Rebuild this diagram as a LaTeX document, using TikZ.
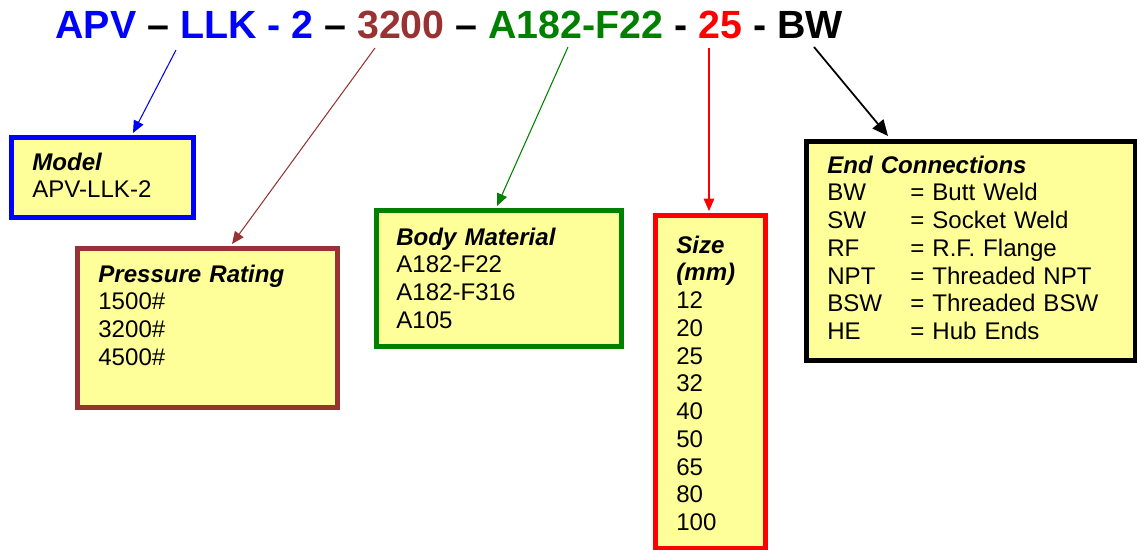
\documentclass[tikz,border=0pt]{standalone}
\usepackage{fontspec}
\setmainfont{Liberation Sans}
\usetikzlibrary{calc, positioning, arrows.meta}
\definecolor{mblue}{HTML}{0000FF}
\definecolor{brick}{HTML}{993333}
\definecolor{leaf}{HTML}{008000}
\definecolor{scarlet}{HTML}{FF0000}
\definecolor{paleyellow}{HTML}{FFFF99}
\tikzset{
  codebox/.style={draw=#1, fill=paleyellow, line width=2.6pt, rectangle, inner sep=0pt, anchor=north west},
  codetext/.style={anchor=base west, inner sep=0pt, font=\fontsize{13.7}{15.8}\selectfont, align=left, text width=#1},
  pointer/.style={draw=#1, line width=0.6pt, -{Triangle[length=7pt,width=6pt]}},
}
\newcommand{\head}[1]{\textbf{\textit{#1}}}

\begin{document}
\begin{tikzpicture}[x=0.02cm, y=-0.02cm]
  \useasboundingbox (0,0) rectangle (1137,549);

  % order code
  \node[anchor=base west, inner sep=0pt, font=\fontsize{22.4}{26}\selectfont\bfseries] (code) at (55,38)
    {\textcolor{mblue}{APV} – \textcolor{mblue}{LLK - 2} – \textcolor{brick}{3200} – \textcolor{leaf}{A182-F22} - \textcolor{scarlet}{25} - BW};
  \coordinate (modelsrc) at (176,50);
  \coordinate (ratingsrc) at (375,48);
  \coordinate (materialsrc) at (568,47);
  \coordinate (sizesrc) at (709,48);
  \coordinate (endsrc) at (814,47);

  % boxes
  \node[codebox=mblue, minimum width=3.64cm, minimum height=1.6cm] (model) at (9,135) {};
  \node[codebox=brick, minimum width=5.2cm, minimum height=3.18cm] (rating) at (75,246) {};
  \node[codebox=leaf, minimum width=4.9cm, minimum height=2.72cm] (material) at (374,208) {};
  \node[codebox=scarlet, minimum width=2.2cm, minimum height=6.66cm] (size) at (653,213) {};
  \node[codebox=black, line width=3pt, minimum width=6.58cm, minimum height=4.38cm] (ends) at (804,139) {};

  \node[codetext=3cm] (modeltxt) at ($(model.north west)+(23,35)$) {\head{Model}\\APV-LLK-2};
  \node[codetext=4.5cm] (ratingtxt) at ($(rating.north west)+(23,36)$) {\head{Pressure Rating}\\1500\#\\3200\#\\4500\#};
  \node[codetext=4.3cm] (materialtxt) at ($(material.north west)+(22,37)$) {\head{Body Material}\\A182-F22\\A182-F316\\A105};
  \node[codetext=1.6cm] (sizetxt) at ($(size.north west)+(23,40)$) {\head{Size}\\\head{(mm)}\\12\\20\\25\\32\\40\\50\\65\\80\\100};
  \node[codetext=6cm] (endstxt) at ($(ends.north west)+(23,34)$) {\head{End Connections}\\
    \makebox[1.66cm][l]{BW}= Butt Weld\\
    \makebox[1.66cm][l]{SW}= Socket Weld\\
    \makebox[1.66cm][l]{RF}= R.F. Flange\\
    \makebox[1.66cm][l]{NPT}= Threaded NPT\\
    \makebox[1.66cm][l]{BSW}= Threaded BSW\\
    \makebox[1.66cm][l]{HE}= Hub Ends};

  % pointers
  \draw[pointer=mblue] (modelsrc) -- ($(model.north west)+(124,-2)$);
  \draw[pointer=brick] (ratingsrc) -- ($(rating.north west)+(157,-2)$);
  \draw[pointer=leaf] (materialsrc) -- ($(material.north west)+(123,-2)$);
  \draw[pointer=scarlet] (sizesrc) -- ($(size.north west)+(56,-2)$);
  \draw[pointer=black, line width=1pt, -{Triangle[length=9pt,width=8pt]}] (endsrc) -- ($(ends.north west)+(84,-3)$);
\end{tikzpicture}
\end{document}
